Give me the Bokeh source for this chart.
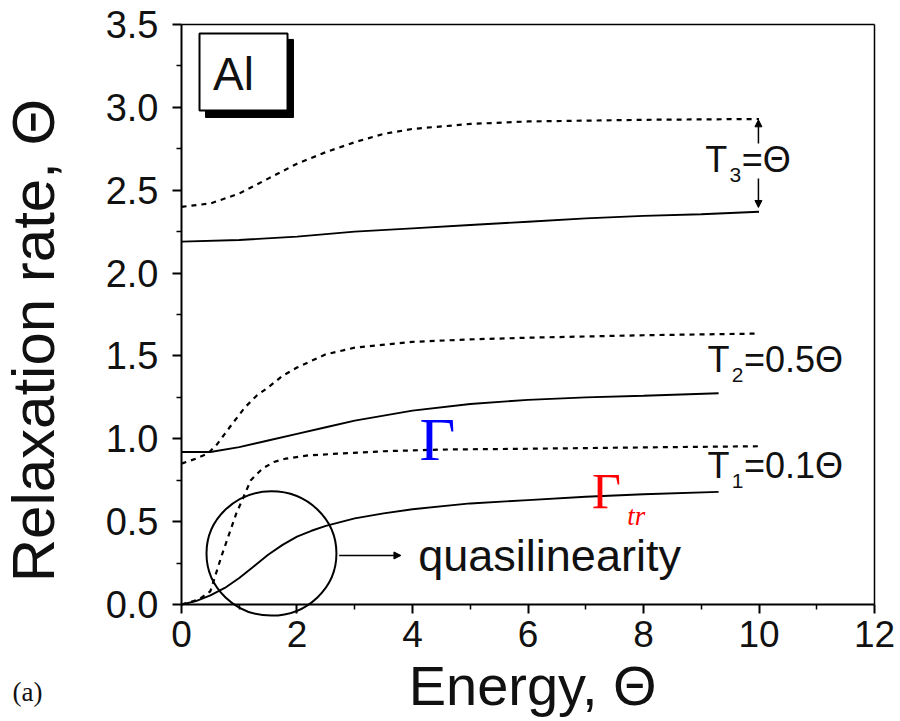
import numpy as np
from bokeh.plotting import figure
from bokeh.models import (Range1d, FixedTicker, NumeralTickFormatter, Label,
                          Arrow, NormalHead, LinearAxis)
from bokeh.embed import file_html
from bokeh.resources import INLINE

# ---- data: relaxation rates vs energy (units of Theta) for Al ----
# T1 = 0.1 Theta
t1_gamma_x = [0.0, 0.3, 0.5, 0.7, 0.85, 0.95, 1.05, 1.2, 1.4, 1.6, 1.8, 2.2, 2.7, 3.5, 4.5, 6.0, 8.0, 10.0]
t1_gamma_y = [0.0, 0.03, 0.08, 0.30, 0.45, 0.55, 0.63, 0.75, 0.82, 0.86, 0.88, 0.90, 0.91, 0.925, 0.935, 0.94, 0.948, 0.955]
t1_gtr_x = [0.0, 0.25, 0.5, 0.75, 1.0, 1.25, 1.5, 1.75, 2.0, 2.25, 2.5, 3.0, 3.5, 4.0, 5.0, 6.0, 7.0, 8.0, 9.3]
t1_gtr_y = [0.0, 0.02, 0.055, 0.10, 0.16, 0.23, 0.30, 0.36, 0.41, 0.445, 0.475, 0.52, 0.55, 0.575, 0.61, 0.63, 0.65, 0.665, 0.68]

# T2 = 0.5 Theta
t2_gamma_x = [0.0, 0.25, 0.45, 0.6, 0.75, 0.9, 1.1, 1.3, 1.5, 1.75, 2.0, 2.5, 3.0, 4.0, 5.0, 6.0, 8.0, 10.0]
t2_gamma_y = [0.85, 0.88, 0.91, 0.96, 1.03, 1.10, 1.19, 1.26, 1.31, 1.38, 1.43, 1.51, 1.55, 1.585, 1.60, 1.61, 1.625, 1.635]
t2_gtr_x = [0.0, 0.5, 1.0, 1.5, 2.0, 2.5, 3.0, 4.0, 5.0, 6.0, 7.0, 8.0, 9.3]
t2_gtr_y = [0.92, 0.92, 0.95, 0.99, 1.03, 1.07, 1.11, 1.17, 1.21, 1.235, 1.25, 1.26, 1.275]

# T3 = Theta
t3_gamma_x = [0.0, 0.5, 1.0, 1.5, 2.0, 2.5, 3.0, 3.5, 4.0, 5.0, 6.0, 8.0, 10.0]
t3_gamma_y = [2.40, 2.42, 2.48, 2.57, 2.66, 2.73, 2.79, 2.84, 2.87, 2.90, 2.915, 2.925, 2.93]
t3_gtr_x = [0.0, 1.0, 2.0, 3.0, 4.0, 5.0, 6.0, 7.0, 8.0, 9.0, 10.0]
t3_gtr_y = [2.19, 2.20, 2.22, 2.25, 2.27, 2.29, 2.31, 2.33, 2.345, 2.355, 2.37]

x_major = [0, 2, 4, 6, 8, 10, 12]
x_minor = [1, 3, 5, 7, 9, 11]
y_major = [0.0, 0.5, 1.0, 1.5, 2.0, 2.5, 3.0, 3.5]
y_minor = [0.25, 0.75, 1.25, 1.75, 2.25, 2.75, 3.25]

SANS = "Liberation Sans"
SERIF = "Liberation Serif"
INK = "#111111"

# The frame spans the whole canvas; the axes sit at fixed data locations so
# that titles and the circle below the axis can be drawn freely.
p = figure(width=900, height=721, output_backend="svg", toolbar_location=None,
           x_range=Range1d(-3.134, 12.450), y_range=Range1d(-0.706, 3.645),
           min_border=0)
p.grid.visible = False
p.outline_line_color = None
p.background_fill_color = "white"
p.border_fill_color = "white"

for ax in (p.xaxis[0], p.yaxis[0]):
    ax.axis_line_width = 2
    ax.axis_line_color = "black"
    ax.major_tick_line_width = 2
    ax.minor_tick_line_width = 1.5
    ax.major_tick_in = 0
    ax.major_tick_out = 9
    ax.minor_tick_in = 0
    ax.minor_tick_out = 5
    ax.major_label_text_font = SANS
    ax.major_label_text_color = INK

p.xaxis.major_label_text_font_size = "37px"
p.yaxis.major_label_text_font_size = "38px"
p.xaxis.fixed_location = 0
p.yaxis.fixed_location = 0
p.xaxis.bounds = (0, 12)
p.yaxis.bounds = (0, 3.5)
p.xaxis.ticker = FixedTicker(ticks=x_major, minor_ticks=x_minor)
p.yaxis.ticker = FixedTicker(ticks=y_major, minor_ticks=y_minor)
p.xaxis.formatter = NumeralTickFormatter(format="0")
p.yaxis.formatter = NumeralTickFormatter(format="0.0")
p.xaxis.major_label_standoff = 7
p.yaxis.major_label_standoff = 14

# top and right edges of the plotting box
for loc, fixed, bnds in (("above", 3.5, (0, 12)), ("right", 12, (0, 3.5))):
    edge = LinearAxis(fixed_location=fixed, bounds=bnds, ticker=FixedTicker(ticks=[]),
                      axis_line_width=1.5, axis_line_color="black",
                      major_tick_line_color=None, minor_tick_line_color=None,
                      major_label_text_font_size="0px")
    p.add_layout(edge, loc)

# curves: dotted = Gamma, solid = Gamma_tr
dot = dict(line_color="black", line_width=2.2, line_dash="5 5")
sol = dict(line_color="black", line_width=1.9)
p.line(t3_gamma_x, t3_gamma_y, **dot)
p.line(t3_gtr_x, t3_gtr_y, **sol)
p.line(t2_gamma_x, t2_gamma_y, **dot)
p.line(t2_gtr_x, t2_gtr_y, **sol)
p.line(t1_gamma_x, t1_gamma_y, **dot)
p.line(t1_gtr_x, t1_gtr_y, **sol)

# "Al" box with drop shadow
p.quad(left=0.416, right=1.939, bottom=2.939, top=3.41, fill_color="black", line_color="black")
p.quad(left=0.312, right=1.836, bottom=2.981, top=3.446, fill_color="white",
       line_color="black", line_width=2)
p.add_layout(Label(x=0.90, y=3.203, text="Al", text_font=SANS, text_font_size="46px",
                   text_align="center", text_baseline="alphabetic", text_color=INK))

# temperature labels
def t_label(xt, yb, sub, rest):
    p.add_layout(Label(x=xt, y=yb + 0.080, text="T", text_font=SANS, text_font_size="36px",
                       text_baseline="alphabetic", text_color=INK))
    p.add_layout(Label(x=xt + 0.42, y=yb - 0.015, text=sub, text_font=SANS,
                       text_font_size="21px", text_baseline="alphabetic", text_color=INK))
    p.add_layout(Label(x=xt + 0.63, y=yb + 0.080, text=rest, text_font=SANS,
                       text_font_size="36px", text_baseline="alphabetic", text_color=INK))

t_label(9.07, 2.607, "3", "=Θ")
t_label(9.11, 1.400, "2", "=0.5Θ")
t_label(9.11, 0.760, "1", "=0.1Θ")

# arrows marking the T3 gap
head = dict(size=7, fill_color="black", line_color="black")
p.add_layout(Arrow(x_start=9.99, y_start=2.782, x_end=9.99, y_end=2.925, line_width=1.5,
                   end=NormalHead(**head)))
p.add_layout(Arrow(x_start=9.99, y_start=2.571, x_end=9.99, y_end=2.396, line_width=1.5,
                   end=NormalHead(**head)))

# Gamma symbols
p.add_layout(Label(x=4.12, y=0.996, text="Γ", text_font=SERIF, text_font_size="62px",
                   text_color="#0000ff", text_baseline="alphabetic"))
p.add_layout(Label(x=7.11, y=0.682, text="Γ", text_font=SERIF, text_font_size="50px",
                   text_color="#ff0000", text_baseline="alphabetic"))
p.add_layout(Label(x=7.72, y=0.537, text="tr", text_font=SERIF, text_font_size="27px",
                   text_font_style="italic", text_color="#ff0000", text_baseline="alphabetic"))

# quasilinearity circle, arrow and note
p.ellipse(x=1.558, y=0.308, width=2.25, height=0.75, fill_alpha=0,
          line_color="black", line_width=2)
p.add_layout(Arrow(x_start=2.73, y_start=0.296, x_end=3.80, y_end=0.296, line_width=1.6,
                   end=NormalHead(**head)))
p.add_layout(Label(x=4.10, y=0.297, text="quasilinearity", text_font=SANS,
                   text_font_size="45px", text_baseline="alphabetic", text_color=INK))

# axis titles and panel tag
p.add_layout(Label(x=-2.563, y=1.593, text="Relaxation rate, Θ", text_font=SANS,
                   text_font_size="60px", angle=np.pi / 2, text_align="center",
                   text_baseline="alphabetic", text_color=INK))
p.add_layout(Label(x=6.08, y=-0.486, text="Energy, Θ", text_font=SANS,
                   text_font_size="56px", text_align="center",
                   text_baseline="alphabetic", text_color=INK))
p.add_layout(Label(x=-2.926, y=-0.525, text="(a)", text_font=SERIF,
                   text_font_size="27px", text_baseline="alphabetic", text_color=INK))

open("out.html", "w").write(file_html(p, INLINE))
